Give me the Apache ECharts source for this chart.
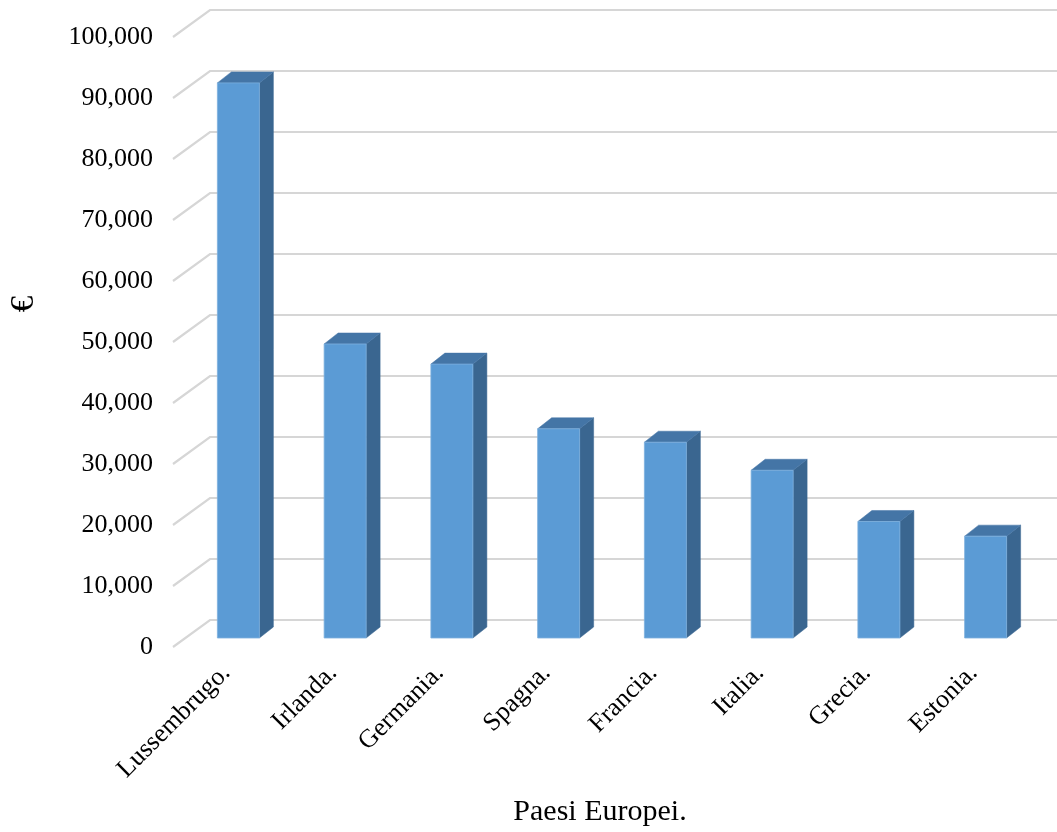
<!DOCTYPE html>
<html>
<head>
<meta charset="utf-8">
<script src="https://cdn.jsdelivr.net/npm/echarts@6/dist/echarts.min.js"></script>
<style>
  html, body { margin: 0; padding: 0; background: #fff; }
  #chart { width: 1057px; height: 832px; }
</style>
</head>
<body>
<div id="chart"></div>
<script>
// categorie (paesi) e valori in euro
var categories = ['Lussembrugo.', 'Irlanda.', 'Germania.', 'Spagna.', 'Francia.', 'Italia.', 'Grecia.', 'Estonia.'];
var values = [91000, 48200, 44900, 34300, 32100, 27500, 19100, 16700];
// valori delle linee di griglia
var yTicks = [0, 10000, 20000, 30000, 40000, 50000, 60000, 70000, 80000, 90000, 100000];

var FONT = 'Liberation Serif, Times New Roman, serif';
// profondita' della "parete" 3D e delle barre
var wallDx = 37, wallDy = -27;
var barDx = 12, barDy = -9; // spostamento della faccia frontale
var depthDx = 14, depthDy = -11; // spessore della barra
var barW = 42;

function fmt(v) {
  return String(v).replace(/\B(?=(\d{3})+(?!\d))/g, ',');
}

var chart = echarts.init(document.getElementById('chart'));

var option = {
  animation: false,
  grid: { left: 173, top: 37, right: 30, bottom: 185 },
  xAxis: {
    type: 'category',
    data: categories,
    axisLine: { show: false },
    axisTick: { show: false },
    axisLabel: {
      rotate: 45,
      margin: 22,
      color: '#000',
      fontFamily: FONT,
      fontSize: 26,
      interval: 0
    },
    name: 'Paesi Europei.',
    nameLocation: 'middle',
    nameGap: 165,
    nameTextStyle: { color: '#000', fontFamily: FONT, fontSize: 30, verticalAlign: 'middle' }
  },
  yAxis: {
    type: 'value',
    min: 0,
    max: 100000,
    interval: 10000,
    axisLine: { show: false },
    axisTick: { show: false },
    splitLine: { show: false },
    axisLabel: {
      margin: 20,
      color: '#000',
      fontFamily: FONT,
      fontSize: 26,
      formatter: function (v) { return fmt(v); }
    }
  },
  graphic: [{
    type: 'text',
    x: 24,
    y: 304,
    rotation: Math.PI / 2,
    style: {
      text: '€',
      fill: '#000',
      font: '33px ' + FONT,
      align: 'center',
      verticalAlign: 'middle'
    }
  }],
  series: [
    {
      // linee di griglia con la parete inclinata
      type: 'custom',
      z: 1,
      silent: true,
      data: yTicks.map(function (t) { return [0, t]; }),
      renderItem: function (params, api) {
        var p = api.coord([0, api.value(1)]);
        var x0 = params.coordSys.x;
        var w = api.getWidth();
        return {
          type: 'polyline',
          shape: { points: [[x0, p[1]], [x0 + wallDx, p[1] + wallDy], [w, p[1] + wallDy]] },
          style: { stroke: '#d6d6d6', lineWidth: 2.2, fill: null }
        };
      }
    },
    {
      // barre 3D
      type: 'custom',
      z: 2,
      data: values.map(function (v, i) { return [i, v]; }),
      renderItem: function (params, api) {
        var top = api.coord([api.value(0), api.value(1)]);
        var base = api.coord([api.value(0), 0]);
        var xl = top[0] + barDx - barW / 2;
        var xr = top[0] + barDx + barW / 2;
        var yt = top[1] + barDy;
        var yb = base[1] + barDy;
        return {
          type: 'group',
          children: [
            {
              type: 'polygon',
              shape: { points: [[xr, yt], [xr + depthDx, yt + depthDy], [xr + depthDx, yb + depthDy], [xr, yb]] },
              style: { fill: '#3a6690', stroke: '#3a6690', lineWidth: 0.5 }
            },
            {
              type: 'polygon',
              shape: { points: [[xl, yt], [xr, yt], [xr + depthDx, yt + depthDy], [xl + depthDx, yt + depthDy]] },
              style: { fill: '#4475a6', stroke: '#4475a6', lineWidth: 0.5 }
            },
            {
              type: 'rect',
              shape: { x: xl, y: yt, width: barW, height: yb - yt },
              style: { fill: '#5b9bd5', stroke: '#7eb0de', lineWidth: 0.8 }
            }
          ]
        };
      }
    }
  ]
};

chart.setOption(option);
window.addEventListener('resize', function () { chart.resize(); });
</script>
</body>
</html>
